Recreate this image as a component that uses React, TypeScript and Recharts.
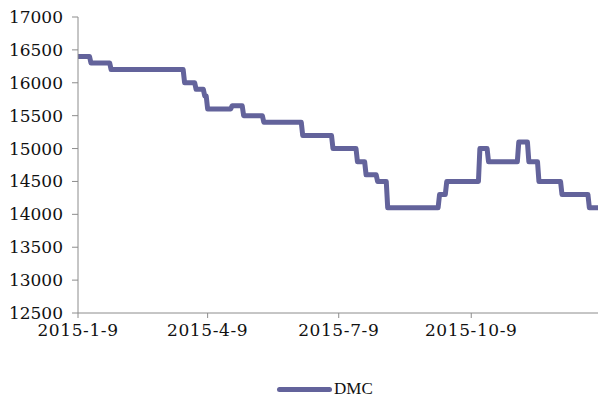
import { Line, LineChart, XAxis, YAxis } from "recharts";

// change points of the DMC price (date, price)
const changeDates = [
  "2015-01-09", "2015-01-18", "2015-02-01", "2015-03-24", "2015-04-01",
  "2015-04-07", "2015-04-09", "2015-04-26", "2015-05-04", "2015-05-18",
  "2015-06-14", "2015-07-05", "2015-07-22", "2015-07-28", "2015-08-05",
  "2015-08-12", "2015-09-17", "2015-09-22", "2015-10-15", "2015-10-21",
  "2015-11-11", "2015-11-18", "2015-11-25", "2015-12-11", "2015-12-30",
  "2016-01-05",
];
const dmcPrices = [
  16400, 16300, 16200, 16000, 15900,
  15800, 15600, 15650, 15500, 15400,
  15200, 15000, 14800, 14600, 14500,
  14100, 14300, 14500, 15000, 14800,
  15100, 14800, 14500, 14300, 14100,
  14100,
];

const tickDates = ["2015-01-09", "2015-04-09", "2015-07-09", "2015-10-09"];
const tickLabels = ["2015-1-9", "2015-4-9", "2015-7-9", "2015-10-9"];
const yTicks = [12500, 13000, 13500, 14000, 14500, 15000, 15500, 16000, 16500, 17000];

const DAY = 86400000;
const start = Date.parse(changeDates[0]);
const dayOf = (d: string) => Math.round((Date.parse(d) - start) / DAY);

// daily series: each price holds until the day before the next change
const data: { day: number; DMC: number }[] = [];
changeDates.forEach((d, i) => {
  const day = dayOf(d);
  data.push({ day, DMC: dmcPrices[i] });
  if (i < changeDates.length - 1) {
    const next = dayOf(changeDates[i + 1]);
    if (next - 1 > day) data.push({ day: next - 1, DMC: dmcPrices[i] });
  }
});
const xTicks = tickDates.map(dayOf);
const endDay = dayOf(changeDates[changeDates.length - 1]);

const axisColor = "#8c8c8c";
const lineColor = "#63639b";
const font = "'DejaVu Serif', serif";

export default function App() {
  return (
    <div style={{ position: "absolute", left: 0, top: 0, width: 598, height: 403, background: "#fff" }}>
      <LineChart width={598} height={403} data={data} margin={{ top: 17, right: 0, bottom: 50, left: 0 }}>
        <XAxis
          type="number"
          dataKey="day"
          domain={[0, endDay]}
          ticks={xTicks}
          tickFormatter={(v: number) => tickLabels[xTicks.indexOf(v)] ?? ""}
          height={40}
          stroke={axisColor}
          tickSize={5}
          tickMargin={6}
          tick={{ fill: "#111", fontSize: 17, fontFamily: font, letterSpacing: 0.6 }}
          allowDataOverflow
        />
        <YAxis
          type="number"
          domain={[12500, 17000]}
          ticks={yTicks}
          width={78}
          stroke={axisColor}
          tickSize={6}
          tickMargin={9}
          tick={{ fill: "#111", fontSize: 17, fontFamily: font }}
        />
        <Line
          type="linear"
          dataKey="DMC"
          stroke={lineColor}
          strokeWidth={5}
          strokeLinejoin="round"
          dot={false}
          isAnimationActive={false}
        />
      </LineChart>
      <div style={{ position: "absolute", left: 277, top: 379, display: "flex", alignItems: "center" }}>
        <div style={{ width: 55, height: 5, borderRadius: 3, background: lineColor }} />
        <span style={{ marginLeft: 2, fontFamily: "'Liberation Serif', serif", fontSize: 17, color: "#111" }}>DMC</span>
      </div>
    </div>
  );
}
